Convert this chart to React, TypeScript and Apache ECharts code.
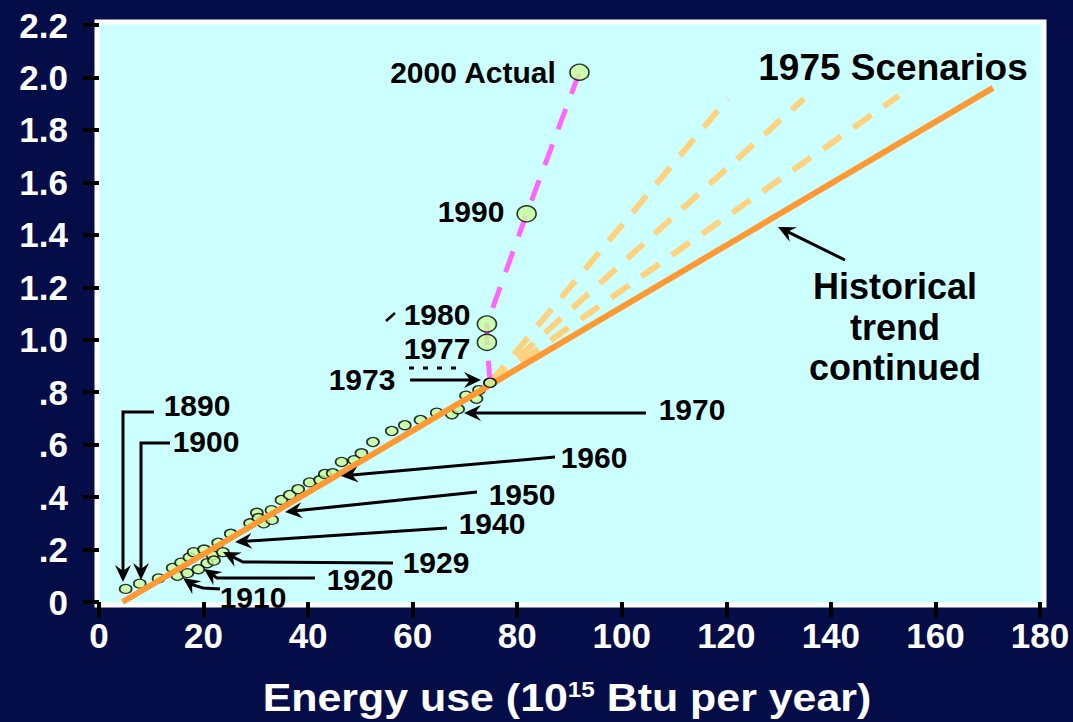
import React, { useEffect, useRef } from "react";
import * as echarts from "echarts";

// ---- data ----
const yTickLabels = ["0", ".2", ".4", ".6", ".8", "1.0", "1.2", "1.4", "1.6", "1.8", "2.0", "2.2"];
const xAxisTitle = "Energy use (10{sup|15} Btu per year)";

// historical points (energy use vs. value)
const histEnergy = [5.1, 7.8, 11.4, 14.1, 15.0, 15.7, 16.9, 17.3, 18.1, 19.0, 20.1, 20.7, 21.7, 22.0, 22.8, 23.7, 25.2, 28.9, 30.2, 30.5, 31.5, 33.0, 33.1, 34.9, 36.5, 38.1, 40.3, 42.3, 43.2, 44.7, 46.4, 48.8, 50.2, 52.4, 56.0, 58.5, 61.5, 64.6, 67.5, 68.7, 70.2, 72.2, 72.7, 74.8];
const histValue = [0.05, 0.07, 0.09, 0.13, 0.1, 0.15, 0.11, 0.17, 0.19, 0.125, 0.2, 0.148, 0.178, 0.158, 0.226, 0.19, 0.26, 0.3, 0.34, 0.32, 0.3, 0.35, 0.313, 0.389, 0.408, 0.43, 0.456, 0.465, 0.488, 0.491, 0.534, 0.541, 0.567, 0.61, 0.652, 0.674, 0.694, 0.722, 0.716, 0.735, 0.787, 0.775, 0.808, 0.836];

// actual path after 1973
const pathEnergy = [74.8, 74.2, 74.2, 81.8, 91.9];
const pathValue = [0.836, 0.99, 1.06, 1.48, 2.02];
const bigDotEnergy = [74.2, 74.2, 81.8, 91.9];
const bigDotValue = [0.99, 1.06, 1.48, 2.02];

// historical trend continued
const trendEnergy = [4.5, 75, 171];
const trendValue = [0, 0.83, 1.96];

// 1975 scenarios (start at 1973 point)
const scenarioStartEnergy = 74.8;
const scenarioStartValue = 0.836;
const scenarioEndEnergy = [120.3, 134.9, 153];
const scenarioEndValue = [1.92, 1.92, 1.93];

// ---- helpers ----
const FONT = "'Liberation Sans', Arial, Helvetica, sans-serif";

function label(text: string, x: number, y: number, size: number) {
  return {
    type: "text",
    z: 100,
    style: {
      text,
      x,
      y,
      fill: "#000",
      font: `bold ${size}px ${FONT}`,
      align: "center",
      verticalAlign: "middle",
      textAlign: "center",
      textVerticalAlign: "middle",
    },
  };
}

function arrow(points: number[][]) {
  const n = points.length;
  const tip = points[n - 1];
  const prev = points[n - 2];
  const dx = tip[0] - prev[0];
  const dy = tip[1] - prev[1];
  const len = Math.sqrt(dx * dx + dy * dy);
  const ux = dx / len;
  const uy = dy / len;
  const px = -uy;
  const py = ux;
  const L = 17;
  const W = 8;
  const N = 11;
  const back = [tip[0] - ux * L, tip[1] - uy * L];
  const notch = [tip[0] - ux * N, tip[1] - uy * N];
  const linePts = points.slice(0, n - 1).concat([notch]);
  return [
    {
      type: "polyline",
      z: 100,
      shape: { points: linePts },
      style: { stroke: "#000", lineWidth: 3, fill: null },
    },
    {
      type: "polygon",
      z: 100,
      shape: {
        points: [
          tip,
          [back[0] + px * W, back[1] + py * W],
          notch,
          [back[0] - px * W, back[1] - py * W],
        ],
      },
      style: { fill: "#000" },
    },
  ];
}

export default function App() {
  const ref = useRef<HTMLDivElement>(null);

  useEffect(() => {
    if (!ref.current) return;
    const chart = echarts.init(ref.current, undefined, { renderer: "svg" });

    const histData = histEnergy.map((x, i) => [x, histValue[i]]);
    const pathData = pathEnergy.map((x, i) => [x, pathValue[i]]);
    const bigData = bigDotEnergy.map((x, i) => [x, bigDotValue[i]]);
    const trendData = trendEnergy.map((x, i) => [x, trendValue[i]]);

    const scenarioSeries = scenarioEndEnergy.map((ex, i) => ({
      type: "line",
      data: [
        [scenarioStartEnergy, scenarioStartValue],
        [ex, scenarioEndValue[i]],
      ],
      symbol: "none",
      z: 2,
      lineStyle: { color: "#ffd280", width: 6, type: [22, 15], cap: "butt" },
    }));

    const graphics: any[] = [
      {
        type: "rect",
        z: -100,
        shape: { x: 97, y: 22, width: 947, height: 583 },
        style: { fill: "#ccffff", stroke: "#ffffff", lineWidth: 5 },
      },
      {
        type: "text",
        z: 100,
        x: 567,
        y: 698,
        scaleX: 1.1,
        style: {
          text: xAxisTitle,
          x: 0,
          y: 0,
          fill: "#fff",
          font: `bold 39px ${FONT}`,
          align: "center",
          verticalAlign: "middle",
          textAlign: "center",
          textVerticalAlign: "middle",
          rich: {
            sup: {
              fill: "#fff",
              font: `bold 22px ${FONT}`,
              verticalAlign: "top",
              padding: [0, 0, 14, 0],
            },
          },
        },
      },
      label("1890", 197, 405, 30),
      label("1900", 206, 441, 30),
      label("1910", 253, 597, 30),
      label("1920", 360, 579, 30),
      label("1929", 436, 562, 30),
      label("1940", 492, 523, 30),
      label("1950", 522, 494, 30),
      label("1960", 594, 457, 30),
      label("1970", 692, 409, 30),
      label("1973", 362, 379, 30),
      label("1977", 437, 348, 30),
      label("1980", 437, 314, 30),
      label("1990", 471, 211, 30),
      label("2000 Actual", 473, 72, 30),
      label("1975 Scenarios", 893, 67, 37),
      label("Historical", 895, 286, 36),
      label("trend", 895, 327, 36),
      label("continued", 895, 367, 36),
      ...arrow([[154, 412], [123, 412], [123, 582]]),
      ...arrow([[170, 443], [141, 443], [141, 580]]),
      ...arrow([[220, 589], [203, 588], [193, 585], [183, 578]]),
      ...arrow([[315, 578], [217, 578], [204, 569]]),
      ...arrow([[393, 563], [243, 562], [223, 552]]),
      ...arrow([[447, 528], [235, 542]]),
      ...arrow([[477, 492], [285, 512]]),
      ...arrow([[555, 457], [341, 476]]),
      ...arrow([[646, 413], [464, 413]]),
      ...arrow([[410, 380], [481, 380]]),
      ...arrow([[845, 260], [778, 227]]),
      {
        type: "line",
        z: 100,
        shape: { x1: 409, y1: 368, x2: 460, y2: 368 },
        style: { stroke: "#000", lineWidth: 3, lineDash: [5, 9] },
      },
      {
        type: "line",
        z: 100,
        shape: { x1: 386, y1: 321, x2: 395, y2: 313 },
        style: { stroke: "#000", lineWidth: 2.5 },
      },
    ];

    chart.setOption({
      animation: false,
      backgroundColor: "#050d49",
      grid: { left: 99, right: 33, top: 25, bottom: 120, containLabel: false },
      xAxis: {
        type: "value",
        min: 0,
        max: 180,
        interval: 20,
        axisLine: { show: false },
        axisTick: { show: true, length: 16, lineStyle: { color: "#000", width: 4 } },
        splitLine: { show: false },
        axisLabel: {
          color: "#fff",
          fontSize: 35,
          fontWeight: "bold",
          fontFamily: FONT,
          margin: 16,
        },
      },
      yAxis: {
        type: "value",
        min: 0,
        max: 2.2,
        interval: 0.2,
        axisLine: { show: false },
        axisTick: { show: true, length: 16, lineStyle: { color: "#000", width: 4 } },
        splitLine: { show: false },
        axisLabel: {
          color: "#fff",
          fontSize: 35,
          fontWeight: "bold",
          fontFamily: FONT,
          margin: 31,
          formatter: (_v: number, idx: number) => yTickLabels[idx],
        },
      },
      graphic: graphics,
      series: [
        ...scenarioSeries,
        {
          type: "scatter",
          data: histData,
          symbol: "circle",
          symbolSize: [12, 9],
          z: 3,
          itemStyle: { color: "#ccff99", borderColor: "#000", borderWidth: 1.5 },
        },
        {
          type: "line",
          data: trendData,
          symbol: "none",
          z: 4,
          lineStyle: { color: "#ff9933", width: 6 },
        },
        {
          type: "line",
          data: pathData,
          symbol: "none",
          z: 5,
          lineStyle: { color: "#ff66ff", width: 5, type: [22, 16], cap: "butt" },
        },
        {
          type: "scatter",
          data: [histData[histData.length - 1]],
          symbol: "circle",
          symbolSize: [12, 9],
          z: 6,
          itemStyle: { color: "#ccff99", borderColor: "#000", borderWidth: 1.5 },
        },
        {
          type: "scatter",
          data: bigData,
          symbol: "circle",
          symbolSize: [19, 16],
          z: 6,
          itemStyle: { color: "#ccff99", borderColor: "#000", borderWidth: 1.5 },
        },
      ],
    });

    return () => chart.dispose();
  }, []);

  return (
    <div
      ref={ref}
      style={{ position: "absolute", left: 0, top: 0, width: 1073, height: 722 }}
    />
  );
}
